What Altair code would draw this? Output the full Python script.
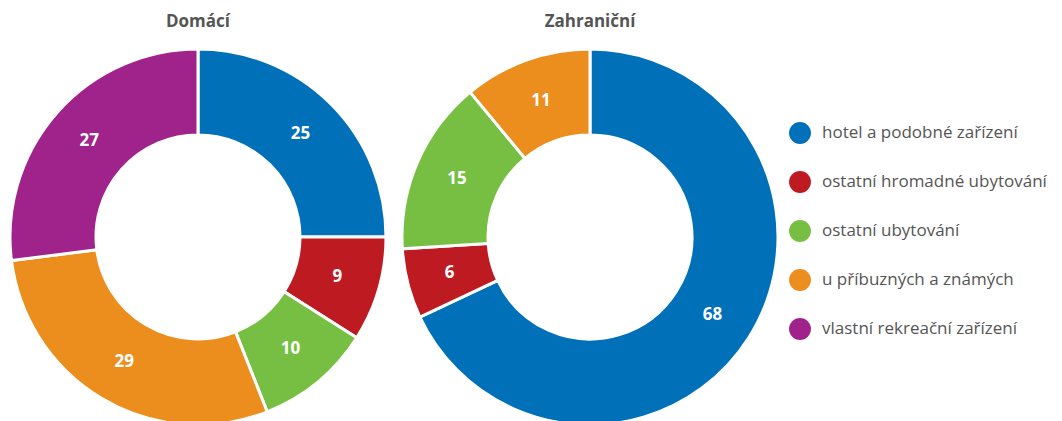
import altair as alt
import pandas as pd

categories = ["hotel a podobné zařízení", "ostatní hromadné ubytování", "ostatní ubytování",
              "u příbuzných a známých", "vlastní rekreační zařízení"]
domaci = [25, 9, 10, 29, 27]
zahranicni = [68, 6, 15, 11, 0]
colors = ["#0070b8", "#be1a21", "#76bf43", "#ec8e1d", "#a0238c"]
titles = ["Domácí", "Zahraniční"]

rows = []
for i, c in enumerate(categories):
    rows.append({"group": titles[0], "cat": c, "order": i, "value": domaci[i]})
    if zahranicni[i] > 0:
        rows.append({"group": titles[1], "cat": c, "order": i, "value": zahranicni[i]})
df = pd.DataFrame(rows)

FONT = "Open Sans"
centers = {titles[0]: 190, titles[1]: 582}
CY = 229
R_OUT = 188
R_IN = 102

color_scale = alt.Scale(domain=categories, range=colors)

layers = []
for gi, g in enumerate(titles):
    base = alt.Chart(df).transform_filter(alt.datum.group == g)
    arc = base.mark_arc(outerRadius=R_OUT, innerRadius=R_IN, stroke="white", strokeWidth=3).encode(
        theta=alt.Theta("value:Q", stack=True, scale=alt.Scale(domain=[0, 100])),
        order=alt.Order("order:Q"),
        color=alt.Color("cat:N", scale=color_scale, sort=categories,
                        legend=alt.Legend(title=None, orient="none", legendX=781, legendY=114,
                                          symbolType="circle", symbolSize=480, symbolStrokeWidth=0,
                                          labelFont=FONT, labelFontSize=17, labelColor="#555555",
                                          rowPadding=27, labelOffset=11, labelLimit=400) if gi == 0 else None),
        x=alt.value(centers[g]),
        y=alt.value(CY),
    )
    txt = base.mark_text(radius=(R_OUT + R_IN) / 2, font=FONT, fontSize=17, fontWeight="bold",
                         color="white").encode(
        theta=alt.Theta("value:Q", stack=True, scale=alt.Scale(domain=[0, 100])),
        order=alt.Order("order:Q"),
        text=alt.Text("value:Q"),
        x=alt.value(centers[g]),
        y=alt.value(CY),
    )
    layers += [arc, txt]

title_df = pd.DataFrame({"t": titles, "x": [centers[t] for t in titles]})
title_layer = alt.Chart(title_df).mark_text(font=FONT, fontSize=17, fontWeight="bold",
                                            color="#555555", baseline="middle").encode(
    x=alt.X("x:Q", scale=alt.Scale(domain=[0, 1046], range=[0, 1046]), axis=None),
    y=alt.value(14),
    text="t:N",
)

chart = alt.layer(*layers, title_layer).properties(
    width=1046, height=413, padding=0, autosize="none"
).configure_view(stroke=None)

chart.save("out.html", embed_options={"renderer": "svg", "actions": False})
